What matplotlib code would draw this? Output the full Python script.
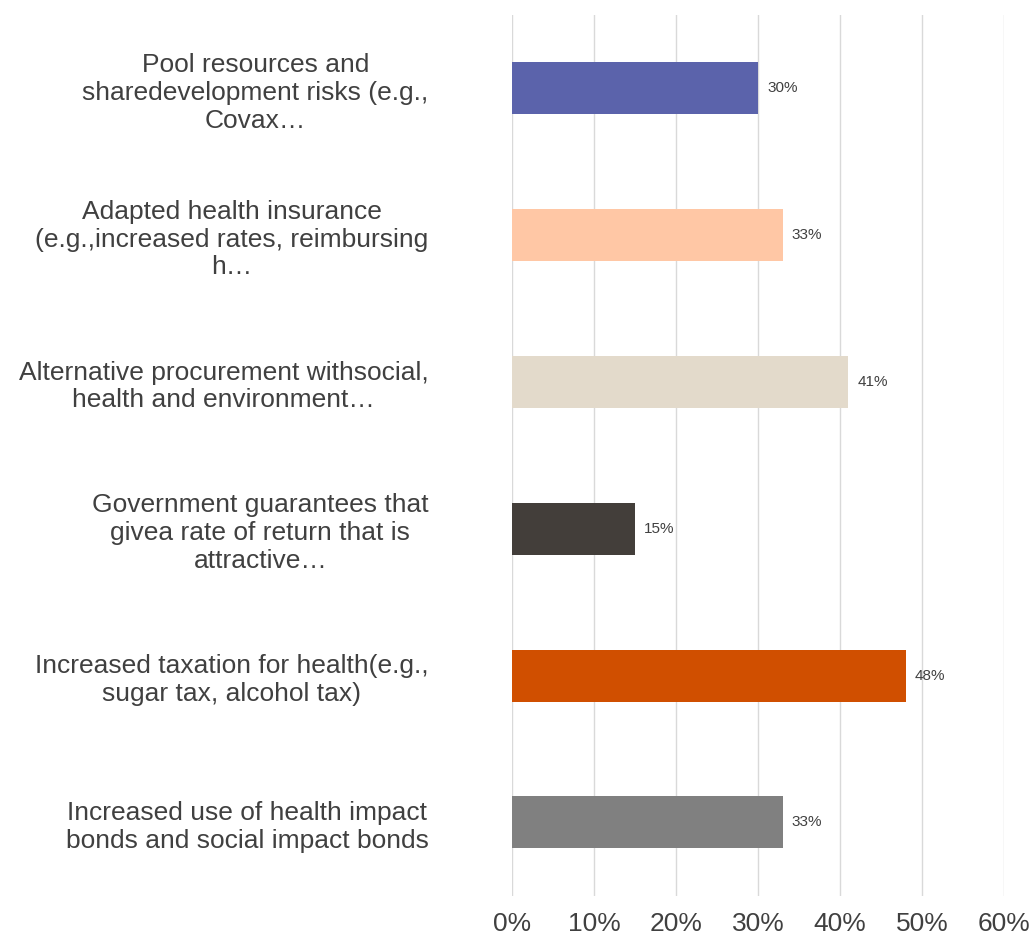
import matplotlib.pyplot as plt
import matplotlib.ticker as ticker

plt.rcParams['font.family'] = ['Liberation Sans', 'DejaVu Sans']

# top to bottom
labels = [
    "Pool resources and\nsharedevelopment risks (e.g.,\nCovax\u2026",
    "Adapted health insurance\n(e.g.,increased rates, reimbursing\nh\u2026",
    "Alternative procurement withsocial,\nhealth and environment\u2026",
    "Government guarantees that\ngivea rate of return that is\nattractive\u2026",
    "Increased taxation for health(e.g.,\nsugar tax, alcohol tax)",
    "Increased use of health impact\nbonds and social impact bonds",
]
values = [30, 33, 41, 15, 48, 33]
colors = ["#5B63AB", "#FFC7A5", "#E3DACB", "#433E3A", "#D04F00", "#808080"]

text_color = "#404040"

fig = plt.figure(figsize=(10.31, 9.4), dpi=100)
ax = fig.add_axes([0.4966, 0.047, 0.4772, 0.937])

pos = list(range(len(values)))[::-1]
ax.barh(pos, [v / 100 for v in values], height=0.355, color=colors, zorder=2)

for y, v in zip(pos, values):
    ax.text(v / 100 + 0.011, y, f"{v}%", va="center", ha="left",
            fontsize=11, color=text_color)

ax.set_xlim(0, 0.6)
ax.set_ylim(-0.5, len(values) - 0.5)
ax.xaxis.set_major_locator(ticker.MultipleLocator(0.1))
ax.xaxis.set_major_formatter(ticker.PercentFormatter(1.0, decimals=0))
ax.grid(axis="x", color="#D9D9D9", linewidth=1, zorder=0)
ax.set_axisbelow(True)

ax.set_yticks(pos)
ax.set_yticklabels(labels, fontsize=19, color=text_color)
for lbl in ax.get_yticklabels():
    lbl.set_multialignment("center")
ax.tick_params(axis="y", length=0, pad=60)
ax.tick_params(axis="x", length=0, pad=12, labelsize=19, labelcolor=text_color)

for s in ax.spines.values():
    s.set_visible(False)

plt.savefig("out.png", dpi=100)
